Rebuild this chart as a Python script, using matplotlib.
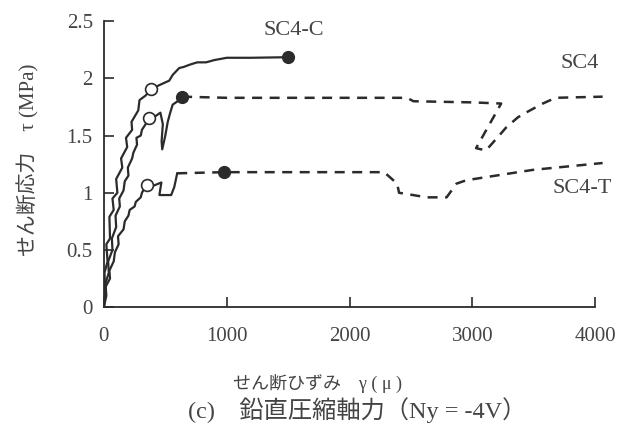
import matplotlib
matplotlib.use("Agg")
import matplotlib.pyplot as plt

plt.rcParams['font.family'] = ['Liberation Serif', 'Noto Sans CJK JP']

# --- data (shear strain in micro, shear stress in MPa) ---
# SC4-C : solid only
sc4c_x = [0, 10, 5, 30, 20, 50, 45, 80, 70, 110, 100, 150, 140, 190, 180, 230, 225, 280,
          290, 340, 387, 430, 470, 532, 560, 613, 650, 700, 760, 831, 900, 950, 1000, 1100, 1200, 1500]
sc4c_y = [0, 0.15, 0.3, 0.4, 0.55, 0.6, 0.79, 0.85, 0.95, 1.0, 1.12, 1.22, 1.3, 1.4, 1.48, 1.55, 1.62, 1.72,
          1.81, 1.85, 1.91, 1.93, 1.95, 1.98, 2.03, 2.09, 2.10, 2.12, 2.14, 2.14, 2.16, 2.17, 2.18, 2.18, 2.18, 2.185]

# SC4 : solid then dashed
sc4_x = [0, 15, 10, 40, 35, 70, 65, 100, 95, 130, 125, 160, 170, 200, 195, 230, 240, 270, 265, 300,
         310, 340, 371, 420, 460, 480, 470, 475, 500, 520, 540, 560, 600, 637]
sc4_y = [0, 0.12, 0.2, 0.3, 0.4, 0.5, 0.6, 0.7, 0.8, 0.88, 0.95, 1.02, 1.1, 1.15, 1.22, 1.3, 1.35, 1.42, 1.48, 1.5,
         1.55, 1.6, 1.65, 1.67, 1.70, 1.60, 1.45, 1.38, 1.50, 1.62, 1.70, 1.77, 1.80, 1.84]
sc4_dx = [637, 1000, 1500, 2000, 2468, 2520, 3000, 3234, 3030, 3110, 3210, 3274, 3371, 3435, 3573, 3677, 4060]
sc4_dy = [1.84, 1.83, 1.83, 1.83, 1.83, 1.80, 1.79, 1.78, 1.39, 1.37, 1.49, 1.57, 1.66, 1.70, 1.78, 1.83, 1.84]

# SC4-T : solid then dashed
sc4t_x = [0, 20, 15, 50, 45, 80, 90, 120, 115, 160, 170, 200, 210, 250, 260, 300, 310, 347,
          400, 468, 452, 548, 573, 597]
sc4t_y = [0, 0.1, 0.18, 0.25, 0.32, 0.4, 0.48, 0.55, 0.62, 0.68, 0.75, 0.8, 0.85, 0.88, 0.92, 0.96, 1.0, 1.07,
          1.06, 1.09, 0.98, 0.98, 1.05, 1.17]
sc4t_dx = [597, 976, 1500, 2000, 2282, 2387, 2403, 2629, 2790, 2871, 2952, 3492, 4060]
sc4t_dy = [1.17, 1.18, 1.18, 1.18, 1.18, 1.08, 1.0, 0.96, 0.96, 1.08, 1.11, 1.20, 1.26]

# open circles (first crack) and filled circles (max)
open_x = [387, 371, 347]
open_y = [1.91, 1.65, 1.07]
full_x = [1500, 637, 976]
full_y = [2.185, 1.84, 1.18]

labels = ['SC4-C', 'SC4', 'SC4-T']
label_x = [1298, 3718, 3653]
label_y = [2.42, 2.13, 1.04]

ink = '#2b2b2b'
txt = '#444444'

fig = plt.figure(figsize=(6.22, 4.32), dpi=100)
ax = fig.add_axes([0.167, 0.289, 0.790, 0.662])

ax.plot(sc4c_x, sc4c_y, color=ink, lw=1.6)
ax.plot(sc4_x, sc4_y, color=ink, lw=1.6)
ax.plot(sc4t_x, sc4t_y, color=ink, lw=1.6)
ax.plot(sc4_dx, sc4_dy, color=ink, lw=1.8, ls=(0, (4, 3)), clip_on=False)
ax.plot(sc4t_dx, sc4t_dy, color=ink, lw=1.8, ls=(0, (4, 3)), clip_on=False)

ax.plot(open_x, open_y, 'o', ms=8.5, mfc='white', mec=ink, mew=1.2, zorder=5)
ax.plot(full_x, full_y, 'o', ms=8.5, mfc=ink, mec=ink, zorder=5)

for t, x, y in zip(labels, label_x, label_y):
    ax.text(x, y, t, ha='left', va='center', fontsize=16, color=txt, clip_on=False)

ax.set_xlim(0, 4000)
ax.set_ylim(0, 2.5)
ax.set_xticks([0, 1000, 2000, 3000, 4000])
ax.set_yticks([0, 0.5, 1, 1.5, 2, 2.5])
ax.set_yticklabels(['0', '0.5', '1', '1.5', '2', '2.5'])
ax.spines['top'].set_visible(False)
ax.spines['right'].set_visible(False)
for s in ['left', 'bottom']:
    ax.spines[s].set_color(ink)
    ax.spines[s].set_linewidth(1.3)
ax.tick_params(direction='in', length=7, width=1.2, color=ink, labelsize=15, labelcolor=txt)
ax.tick_params(axis='x', pad=14)
ax.tick_params(axis='y', pad=8)

fig.text(0.045, 0.63, 'せん断応力　τ (MPa)', rotation=90, ha='center', va='center',
         fontsize=15, color=txt)
fig.text(0.511, 0.113, 'せん断ひずみ　γ ( μ )', ha='center', va='center',
         fontsize=13, color=txt)
fig.text(0.575, 0.051, '(c)　鉛直圧縮軸力（Ny = -4V）', ha='center', va='center',
         fontsize=17.5, color=txt)

fig.savefig('out.png', dpi=100)
